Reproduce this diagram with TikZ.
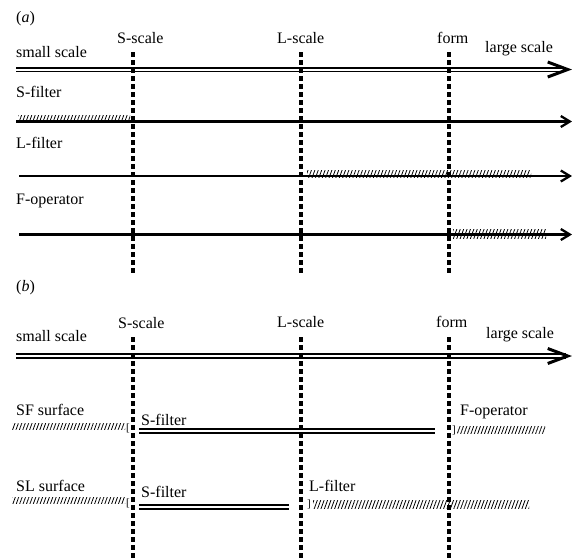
\documentclass[tikz,border=0pt]{standalone}
\usepackage{fontspec}
\setmainfont{Liberation Serif}
\usetikzlibrary{patterns.meta}
\usetikzlibrary{arrows.meta}
\tikzstyle{lab} = [inner sep=0pt, anchor=base west, font=\fontsize{16}{19}\selectfont]
\tikzstyle{brack} = [inner sep=0pt, font=\fontsize{11}{13}\selectfont]
\tikzstyle{cut} = [line width=3.6pt, dash pattern=on 5pt off 3pt]
\tikzstyle{band} = [double, line width=1.6pt, double distance=2pt]
\tikzstyle{axis} = [band, -{Straight Barb[length=20pt,width=15pt,line width=3pt]}]
\tikzstyle{arrow} = [line width=2.3pt, -{Straight Barb[length=9pt,width=11pt]}]
\tikzstyle{hatch} = [pattern={Lines[angle=70,distance=3.2pt,line width=0.8pt]}]

\begin{document}
\begin{tikzpicture}[x=1pt,y=-1pt]
\useasboundingbox (0,0) rectangle (572,558);
% (a)
\node (pa) at (16,22) [lab] {(\textit{a})};
\node (ssa) at (117,43.5) [lab] {S-scale};
\node (lsa) at (277,43.5) [lab] {L-scale};
\node (fa) at (437,43) [lab] {form};
\node (sma) at (16,57) [lab] {small scale};
\node (lga) at (485,52) [lab] {large scale};
\node (sfa) at (16,97) [lab] {S-filter};
\node (lfa) at (16,148) [lab] {L-filter};
\node (foa) at (16,204) [lab] {F-operator};
\fill[hatch] (18,115) rectangle (130,121);
\fill[hatch] (307,170) rectangle (531,177);
\fill[hatch] (453,229) rectangle (546,238);
\draw[axis] (16,69.5) -- (572,69.5);
\draw[arrow] (16,121.5) -- (572,121.5);
\draw[arrow] (19,176) -- (572,176);
\draw[arrow] (19,234.5) -- (572,234.5);
\draw[cut] (133,52) -- (133,273);
\draw[cut] (301,52) -- (301,273);
\draw[cut] (449,52) -- (449,273);
% (b)
\node (pb) at (16,291) [lab] {(\textit{b})};
\node (ssb) at (118,328) [lab] {S-scale};
\node (lsb) at (277,327) [lab] {L-scale};
\node (fb) at (436,327) [lab] {form};
\node (smb) at (16,341) [lab] {small scale};
\node (lgb) at (486,338) [lab] {large scale};
\node (sfs) at (16,415) [lab] {SF surface};
\node (sls) at (16,491) [lab] {SL surface};
\node (sf1) at (141,425) [lab] {S-filter};
\node (fo1) at (460,415) [lab] {F-operator};
\node (sf2) at (141,497) [lab] {S-filter};
\node (lf2) at (309,491) [lab] {L-filter};
\node (bo1) at (128,428) [brack] {[};
\node (bc1) at (454,430) [brack] {]};
\node (bo2) at (128,503) [brack] {[};
\node (bc2) at (309,504) [brack] {]};
\fill[hatch] (12,423) rectangle (125,429);
\fill[hatch] (12,497) rectangle (125,503);
\fill[hatch] (457,426) rectangle (545,433);
\fill[hatch] (313,500) rectangle (529,508);
\draw[axis] (16,356) -- (572,356);
\draw[band] (139,431) -- (435,431);
\draw[band] (139,507) -- (289,507);
\draw[cut] (133,337) -- (133,558);
\draw[cut] (301,337) -- (301,558);
\draw[cut] (449,337) -- (449,558);
\end{tikzpicture}
\end{document}
